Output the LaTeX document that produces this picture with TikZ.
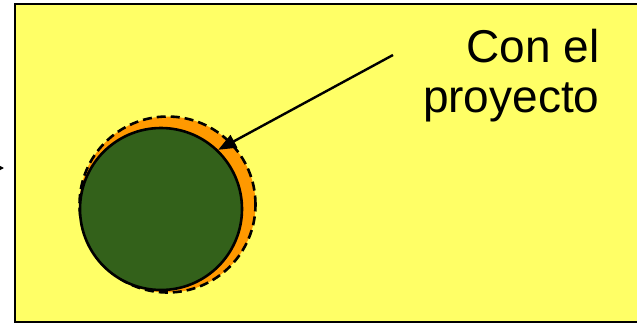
\documentclass[tikz,border=0pt]{standalone}
\usepackage{fontspec}
\setmainfont{Liberation Sans}
\definecolor{BGyellow}{HTML}{FFFF66}
\definecolor{CIRgreen}{HTML}{33611A}
\definecolor{CIRorange}{HTML}{FF9900}
\usetikzlibrary{arrows.meta, positioning}

\begin{document}
\begin{tikzpicture}[x=1pt, y=-1pt,
   circ/.style={circle, draw=black, line width=2.6pt, inner sep=0pt}]
      \useasboundingbox (0,0) rectangle (637,325);
      % Background panel
      \draw[fill=BGyellow, line width=2.6pt] (15,4) rectangle (660,322);
      % Incoming arrow tip on the left
      \coordinate (inA) at (-30,168);
      \coordinate (inB) at (4,168);
      \draw[-{Triangle[length=6pt, width=6pt]}, line width=1.5pt] (inA) -- (inB);
      % With the project (dashed) and base (green)
      \node[circ, fill=CIRorange, dash pattern=on 9pt off 5pt, minimum size=176pt] (proj) at (167.5,204.5) {};
      \node[circ, fill=CIRgreen, minimum size=162pt] (base) at (161,209) {};
      % Label
      \node[anchor=base east, align=right, font=\fontsize{46}{50}\selectfont] (lbl) at (603,112) {Con el\\proyecto};
      \coordinate (tail) at (393,55);
      \draw[-{Triangle[length=18pt, width=14pt]}, line width=2.4pt] (tail) -- (base.46);
   \end{tikzpicture}
\end{document}
